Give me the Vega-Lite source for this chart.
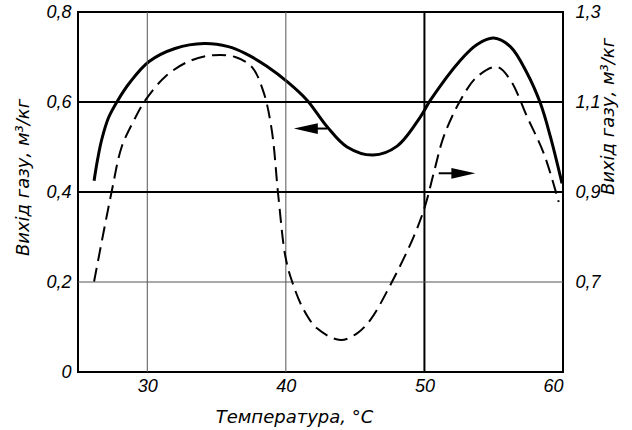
{
  "$schema": "https://vega.github.io/schema/vega-lite/v6.json",
  "width": 485,
  "height": 360,
  "autosize": {"type": "none"},
  "padding": {"left": 78, "top": 12, "right": 69, "bottom": 58},
  "background": "white",
  "config": {
    "view": {"stroke": "black", "strokeWidth": 2},
    "axis": {
      "labelFont": "Liberation Sans",
      "labelFontStyle": "italic",
      "labelFontSize": 18,
      "labelColor": "black",
      "titleFont": "DejaVu Sans",
      "titleFontStyle": "italic",
      "titleFontWeight": "normal",
      "titleFontSize": 18,
      "titleColor": "black",
      "ticks": false,
      "domain": false,
      "grid": false
    }
  },
  "datasets": {
    "solid": [
      {"t": 26.16, "v": 0.425},
      {"t": 26.4, "v": 0.47},
      {"t": 26.7, "v": 0.515},
      {"t": 27.2, "v": 0.565},
      {"t": 27.86, "v": 0.603},
      {"t": 28.78, "v": 0.645},
      {"t": 30.13, "v": 0.690},
      {"t": 32.0, "v": 0.719},
      {"t": 34.1, "v": 0.730},
      {"t": 35.85, "v": 0.723},
      {"t": 37.06, "v": 0.708},
      {"t": 38.6, "v": 0.68},
      {"t": 40.18, "v": 0.643},
      {"t": 41.53, "v": 0.604},
      {"t": 42.98, "v": 0.545},
      {"t": 44.42, "v": 0.500},
      {"t": 46.3, "v": 0.482},
      {"t": 48.03, "v": 0.502},
      {"t": 49.71, "v": 0.567},
      {"t": 50.43, "v": 0.604},
      {"t": 52.6, "v": 0.693},
      {"t": 53.8, "v": 0.728},
      {"t": 55.0, "v": 0.742},
      {"t": 56.2, "v": 0.723},
      {"t": 57.41, "v": 0.664},
      {"t": 58.37, "v": 0.597},
      {"t": 59.09, "v": 0.523},
      {"t": 59.93, "v": 0.419}
    ],
    "dashed": [
      {"t": 26.16, "r": 0.701},
      {"t": 27.43, "r": 0.901},
      {"t": 28.15, "r": 1.0},
      {"t": 29.0, "r": 1.057},
      {"t": 29.84, "r": 1.103},
      {"t": 31.29, "r": 1.156},
      {"t": 32.97, "r": 1.19},
      {"t": 34.77, "r": 1.204},
      {"t": 36.34, "r": 1.20},
      {"t": 37.54, "r": 1.178},
      {"t": 38.38, "r": 1.123},
      {"t": 38.98, "r": 1.038},
      {"t": 39.46, "r": 0.890},
      {"t": 39.97, "r": 0.756},
      {"t": 40.45, "r": 0.701},
      {"t": 41.29, "r": 0.638},
      {"t": 42.25, "r": 0.597},
      {"t": 43.94, "r": 0.571},
      {"t": 45.14, "r": 0.586},
      {"t": 46.10, "r": 0.616},
      {"t": 47.67, "r": 0.701},
      {"t": 49.23, "r": 0.801},
      {"t": 50.07, "r": 0.871},
      {"t": 50.67, "r": 0.942},
      {"t": 51.39, "r": 1.023},
      {"t": 52.6, "r": 1.104},
      {"t": 53.8, "r": 1.156},
      {"t": 55.24, "r": 1.178},
      {"t": 56.2, "r": 1.149},
      {"t": 57.41, "r": 1.067},
      {"t": 58.61, "r": 0.986},
      {"t": 59.69, "r": 0.878}
    ],
    "gridThinX": [{"t": 30}, {"t": 40}],
    "gridThickX": [{"t": 50}],
    "gridThinY": [{"v": 0.2}],
    "gridThickY": [{"v": 0.4}, {"v": 0.6}],
    "arrowLeft": [{"t": 41.44, "s1": 42.0, "s2": 43.0, "v": 0.541}],
    "arrowRight": [{"t": 52.81, "s1": 51.03, "s2": 52.5, "r": 0.9416}]
  },
  "layer": [
    {
      "layer": [
        {
          "data": {"name": "solid"},
          "mark": {"type": "line", "interpolate": "catmull-rom", "color": "black", "strokeWidth": 3},
          "encoding": {
            "x": {
              "field": "t", "type": "quantitative",
              "scale": {"domain": [25, 60], "nice": false, "zero": false},
              "axis": {
                "values": [30, 40, 50, 60],
                "title": "Температура, °C",
                "labelPadding": 5,
                "titleX": 216,
                "titleY": 50,
                "titleBaseline": "alphabetic"
              }
            },
            "y": {
              "field": "v", "type": "quantitative",
              "scale": {"domain": [0, 0.8], "nice": false},
              "axis": {
                "values": [0, 0.2, 0.4, 0.6, 0.8],
                "labelExpr": "datum.value == 0 ? '0' : replace(format(datum.value, '.1f'), '.', ',')",
                "title": "Вихід газу, м³/кг",
                "labelPadding": 7,
                "titleX": -55,
                "titleY": 165,
                "titleBaseline": "middle"
              }
            }
          }
        },
        {
          "data": {"name": "gridThinX"},
          "mark": {"type": "rule", "color": "#555555", "strokeWidth": 1},
          "encoding": {"x": {"field": "t", "type": "quantitative"}}
        },
        {
          "data": {"name": "gridThickX"},
          "mark": {"type": "rule", "color": "black", "strokeWidth": 2},
          "encoding": {"x": {"field": "t", "type": "quantitative"}}
        },
        {
          "data": {"name": "gridThinY"},
          "mark": {"type": "rule", "color": "#555555", "strokeWidth": 1},
          "encoding": {"y": {"field": "v", "type": "quantitative"}}
        },
        {
          "data": {"name": "gridThickY"},
          "mark": {"type": "rule", "color": "black", "strokeWidth": 2},
          "encoding": {"y": {"field": "v", "type": "quantitative"}}
        },
        {
          "data": {"name": "arrowLeft"},
          "mark": {"type": "rule", "color": "black", "strokeWidth": 2},
          "encoding": {
            "x": {"field": "s1", "type": "quantitative"},
            "x2": {"field": "s2"},
            "y": {"field": "v", "type": "quantitative"}
          }
        },
        {
          "data": {"name": "arrowLeft"},
          "mark": {"type": "point", "shape": "M-1,0L1,-0.45L1,0.45Z", "filled": true, "color": "black", "opacity": 1, "size": 576},
          "encoding": {
            "x": {"field": "t", "type": "quantitative"},
            "y": {"field": "v", "type": "quantitative"}
          }
        }
      ]
    },
    {
      "layer": [
        {
          "data": {"name": "dashed"},
          "mark": {"type": "line", "interpolate": "catmull-rom", "color": "black", "strokeWidth": 2, "strokeDash": [14, 7]},
          "encoding": {
            "x": {"field": "t", "type": "quantitative"},
            "y": {
              "field": "r", "type": "quantitative",
              "scale": {"domain": [0.5, 1.3], "nice": false, "zero": false},
              "axis": {
                "orient": "right",
                "values": [0.7, 0.9, 1.1, 1.3],
                "labelExpr": "replace(format(datum.value, '.1f'), '.', ',')",
                "title": "Вихід газу, м³/кг",
                "titleAngle": -90,
                "labelPadding": 12,
                "titleX": 45,
                "titleY": 104,
                "titleBaseline": "middle"
              }
            }
          }
        },
        {
          "data": {"name": "arrowRight"},
          "mark": {"type": "rule", "color": "black", "strokeWidth": 2},
          "encoding": {
            "x": {"field": "s1", "type": "quantitative"},
            "x2": {"field": "s2"},
            "y": {"field": "r", "type": "quantitative"}
          }
        },
        {
          "data": {"name": "arrowRight"},
          "mark": {"type": "point", "shape": "M1,0L-1,-0.45L-1,0.45Z", "filled": true, "color": "black", "opacity": 1, "size": 576},
          "encoding": {
            "x": {"field": "t", "type": "quantitative"},
            "y": {"field": "r", "type": "quantitative"}
          }
        }
      ]
    }
  ],
  "resolve": {"scale": {"y": "independent"}}
}
